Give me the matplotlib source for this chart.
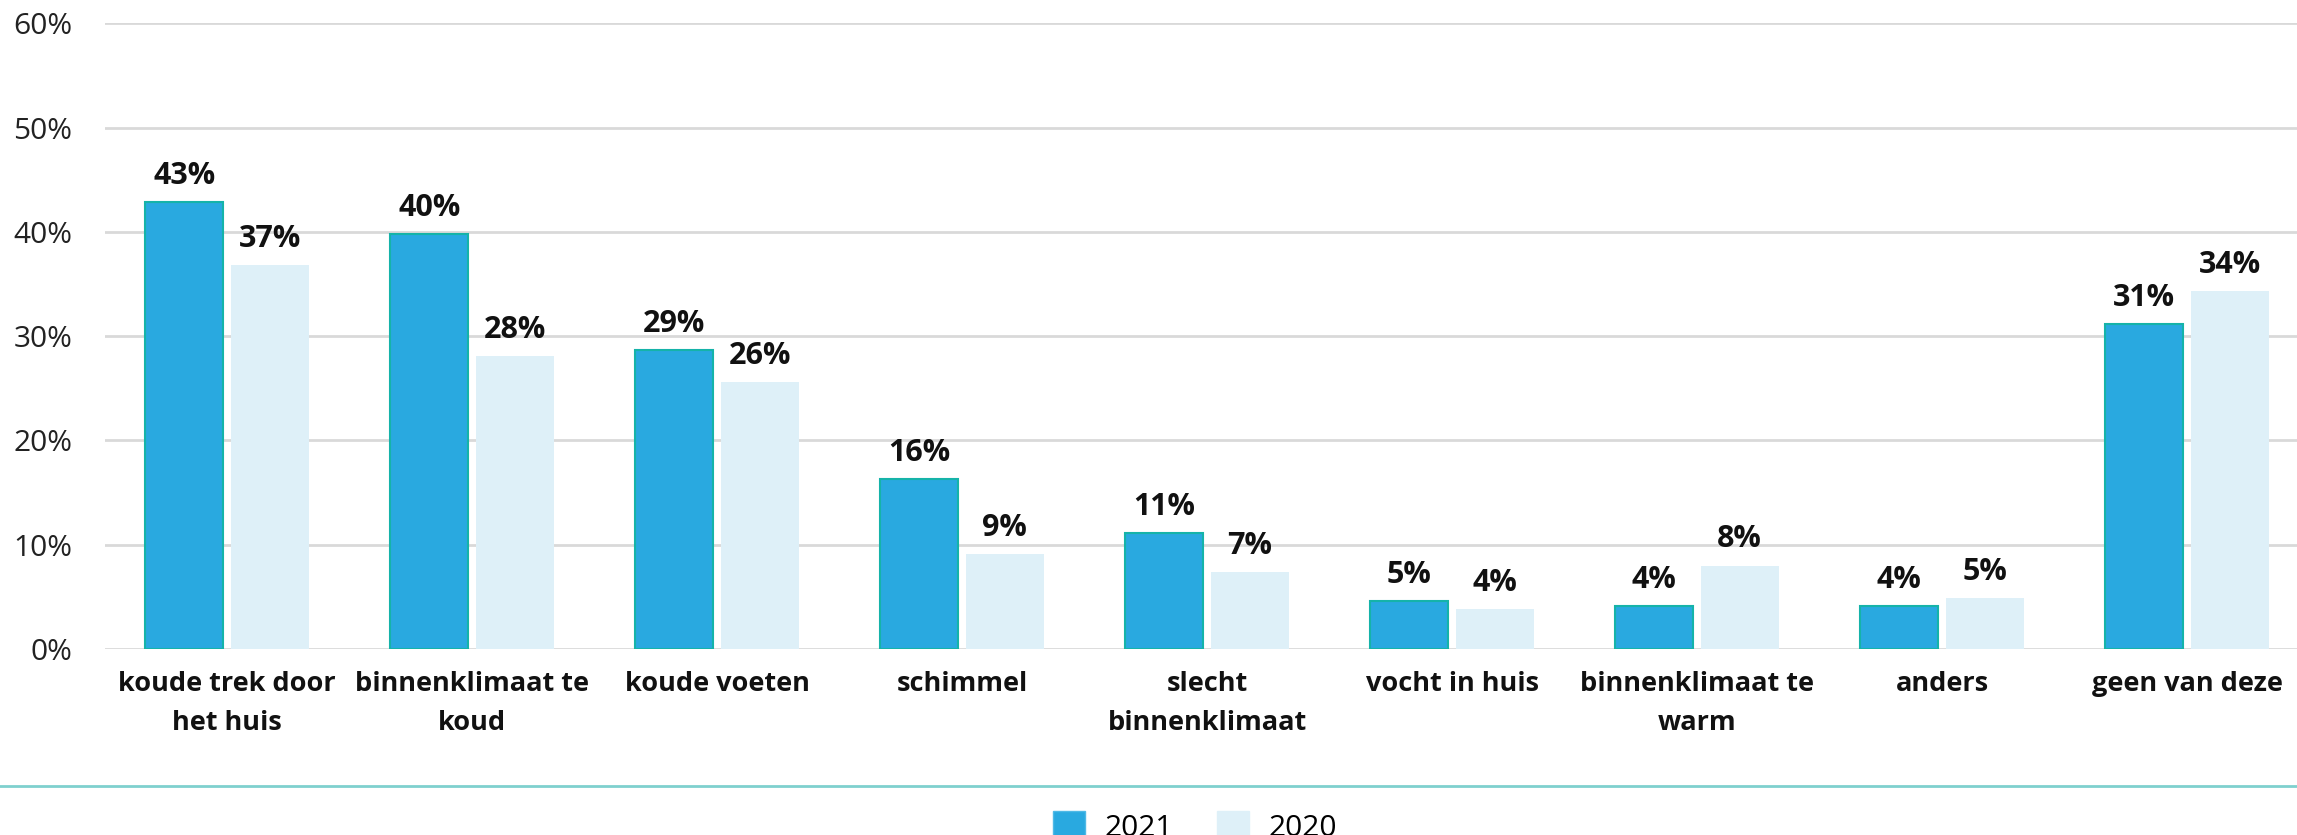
import matplotlib
matplotlib.use("Agg")
import matplotlib.pyplot as plt
from matplotlib.lines import Line2D
from matplotlib.patches import Patch
import numpy as np

plt.rcParams['font.family'] = ['Open Sans', 'DejaVu Sans']

categories = ["koude trek door\nhet huis", "binnenklimaat te\nkoud", "koude voeten",
              "schimmel", "slecht\nbinnenklimaat", "vocht in huis",
              "binnenklimaat te\nwarm", "anders", "geen van deze"]
values_2021 = [42.9, 39.8, 28.7, 16.3, 11.1, 4.6, 4.1, 4.1, 31.2]
values_2020 = [36.8, 28.1, 25.6, 9.1, 7.4, 3.8, 8.0, 4.9, 34.3]
labels_2021 = ["43%", "40%", "29%", "16%", "11%", "5%", "4%", "4%", "31%"]
labels_2020 = ["37%", "28%", "26%", "9%", "7%", "4%", "8%", "5%", "34%"]
yticks = [0, 10, 20, 30, 40, 50, 60]

c2021 = "#29A9E0"
c2021_edge = "#15B3A9"
c2020 = "#DEF0F8"

fig = plt.figure(figsize=(22.97, 8.35), dpi=100)
ax = fig.add_axes([104.5 / 2297, 186 / 835, 2205 / 2297, 625.6 / 835])

x = np.arange(len(categories))
off = 0.1745
w = 0.32
b1 = ax.bar(x - off, values_2021, w, color=c2021, edgecolor=c2021_edge, linewidth=1.5, zorder=3)
b2 = ax.bar(x + off, values_2020, w, color=c2020, zorder=3)

for bars, labs in ((b1, labels_2021), (b2, labels_2020)):
    for rect, lab in zip(bars, labs):
        ax.annotate(lab, (rect.get_x() + rect.get_width() / 2, rect.get_height()),
                    xytext=(0, 8), textcoords="offset points", ha="center", va="bottom",
                    fontsize=22, fontweight="bold", color="#111111")

ax.set_xlim(-0.5, len(categories) - 0.5)
ax.set_ylim(0, 60)
ax.set_yticks(yticks)
ax.set_yticklabels([f"{t}%" for t in yticks], fontsize=21.5, color="#222222")
ax.set_xticks(x)
ax.set_xticklabels(categories, fontsize=19.5, fontweight="bold", color="#111111", linespacing=1.65)
ax.tick_params(axis="both", length=0)
ax.tick_params(axis="y", pad=23)
ax.tick_params(axis="x", pad=16)
ax.grid(axis="y", color="#D9D9D9", linewidth=2, zorder=0)
for s in ax.spines.values():
    s.set_visible(False)

fig.add_artist(Line2D([0, 1], [49 / 835, 49 / 835], transform=fig.transFigure,
                      color="#7FD0CE", linewidth=2))

handles = [Patch(facecolor=c2021, edgecolor="#4FB9E6"), Patch(facecolor=c2020, edgecolor=c2020)]
fig.legend(handles, ["2021", "2020"], loc="center", bbox_to_anchor=(1195 / 2297, 8 / 835),
           ncol=2, frameon=False, fontsize=21.5, handlelength=1.05, handleheight=1.05,
           handletextpad=0.65, columnspacing=1.5)

fig.savefig("out.png", dpi=100)
